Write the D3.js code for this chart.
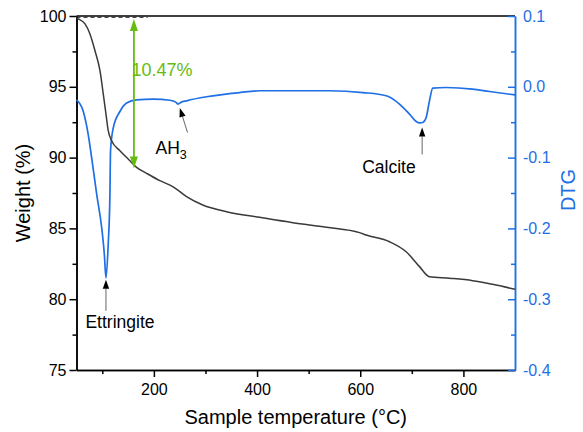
<!DOCTYPE html>
<html><head><meta charset="utf-8">
<script src="https://cdn.jsdelivr.net/npm/d3@7"></script>
<style>
html,body{margin:0;padding:0;background:#fff;}
svg{display:block;font-family:"Liberation Sans",Arial,sans-serif;}
</style></head>
<body>
<svg id="chart" width="583" height="432"></svg>
<script>
// ---- data ----
const weightT = [50, 53.5, 66.5, 76.1, 85.8, 95.5, 101.9, 107.1, 111.5, 118.1, 134.2, 153.5, 166.5, 185.9, 211.6, 237.4, 263.3, 294.8, 340.7, 405.2, 469.6, 534.3, 598.7, 611.7, 656.8, 689.1, 714.9, 734.2, 772.9, 818.0, 856.7, 900];
const weightV = [99.85, 99.79, 99.44, 98.73, 97.55, 96.14, 94.49, 93.08, 91.90, 91.19, 90.49, 89.78, 89.31, 88.89, 88.37, 87.94, 87.24, 86.65, 86.18, 85.78, 85.40, 85.08, 84.70, 84.53, 84.06, 83.35, 82.30, 81.59, 81.48, 81.31, 81.05, 80.70];
const dtgT = [50, 63.2, 72.8, 79.4, 89.1, 98.8, 104.0, 107.1, 111.5, 114.8, 116.0, 121.2, 134.2, 147.2, 166.5, 198.6, 231, 243, 247, 252, 263.3, 302, 366.5, 405.2, 540.6, 605.1, 650.4, 676.1, 695.5, 708.5, 715, 721.2, 727.8, 734.2, 740.6, 766.5, 817.4, 850.3, 900];
const dtgV = [-0.0184, -0.0349, -0.0678, -0.1003, -0.1516, -0.1987, -0.237, -0.2700, -0.2218, -0.1516, -0.090, -0.0583, -0.0349, -0.0230, -0.0184, -0.0174, -0.0190, -0.0220, -0.0244, -0.0220, -0.0198, -0.0141, -0.0081, -0.0056, -0.0056, -0.0081, -0.0127, -0.0244, -0.0386, -0.0490, -0.0510, -0.0504, -0.0434, -0.0198, -0.0018, -0.0010, -0.0032, -0.0066, -0.0115];
const xMajor = [200, 400, 600, 800];
const xMinor = [100, 300, 500, 700];
const wMajor = [75, 80, 85, 90, 95, 100];
const wMinor = [77.5, 82.5, 87.5, 92.5, 97.5];
const dMajor = [-0.4, -0.3, -0.2, -0.1, 0.0, 0.1];
const dMinor = [-0.35, -0.25, -0.15, -0.05, 0.05];
const massLoss = {label: "10.47%", T: 161.3, top: 99.85, bottom: 89.3, dashEnd: 188};
const peaks = [
  {label: "Ettringite", T: 107.1, v: -0.2726},
  {label: "AH", sub: "3", T: 250.3, v: -0.030},
  {label: "Calcite", T: 720, v: -0.0575}
];

// ---- layout ----
const blue = "#1f6fe5", green = "#66bb11", ink = "#000";
const L = 76.5, R = 515, T0 = 16, B = 370;
const x = d3.scaleLinear().domain([50, 900]).range([L, R]);
const yW = d3.scaleLinear().domain([75, 100]).range([B, T0]);
const yD = d3.scaleLinear().domain([-0.4, 0.1]).range([B, T0]);
const svg = d3.select("#chart");

// frame top
svg.append("line").attr("x1", L).attr("x2", R).attr("y1", T0).attr("y2", T0)
  .attr("stroke", ink).attr("stroke-width", 1.5);

// axes
function styleAxis(g, color) {
  g.select(".domain").attr("stroke", color).attr("stroke-width", 1.5);
  g.selectAll(".tick line").attr("stroke", color).attr("stroke-width", 1.5);
  g.selectAll(".tick text").attr("fill", color).attr("font-size", 16)
    .attr("font-family", '"Liberation Sans",Arial,sans-serif');
}
const gx = svg.append("g").attr("transform", `translate(0,${B})`)
  .call(d3.axisBottom(x).tickValues(xMajor).tickSize(7).tickPadding(7).tickSizeOuter(0));
styleAxis(gx, ink);
const gx2 = svg.append("g").attr("transform", `translate(0,${B})`)
  .call(d3.axisBottom(x).tickValues(xMinor).tickSize(4).tickFormat("").tickSizeOuter(0));
styleAxis(gx2, ink);

const gl = svg.append("g").attr("transform", `translate(${L},0)`)
  .call(d3.axisLeft(yW).tickValues(wMajor).tickSize(7).tickPadding(3).tickSizeOuter(0));
styleAxis(gl, ink);
const gl2 = svg.append("g").attr("transform", `translate(${L},0)`)
  .call(d3.axisLeft(yW).tickValues(wMinor).tickSize(4).tickFormat("").tickSizeOuter(0));
styleAxis(gl2, ink);

const gr = svg.append("g").attr("transform", `translate(${R},0)`)
  .call(d3.axisRight(yD).tickValues(dMajor).tickSize(-7).tickPadding(8).tickSizeOuter(0)
    .tickFormat(d => (Math.abs(d) < 1e-9 ? 0 : d).toFixed(1)));
styleAxis(gr, blue);
const gr2 = svg.append("g").attr("transform", `translate(${R},0)`)
  .call(d3.axisRight(yD).tickValues(dMinor).tickSize(-4).tickFormat("").tickSizeOuter(0));
styleAxis(gr2, blue);

// axis titles
svg.append("text").attr("transform", `translate(29.5,${(T0 + B) / 2}) rotate(-90)`)
  .attr("text-anchor", "middle").attr("font-size", 20).attr("fill", ink).text("Weight (%)");
svg.append("text").attr("transform", `translate(575,190) rotate(-90)`)
  .attr("text-anchor", "middle").attr("font-size", 20).attr("fill", blue).text("DTG");
svg.append("text").attr("x", (L + R) / 2).attr("y", 424)
  .attr("text-anchor", "middle").attr("font-size", 20).attr("fill", ink).text("Sample temperature (°C)");

// curves
const wData = weightT.map((t, i) => [t, weightV[i]]);
const dData = dtgT.map((t, i) => [t, dtgV[i]]);
svg.append("path").datum(dData).attr("fill", "none").attr("stroke", blue).attr("stroke-width", 1.7)
  .attr("d", d3.line().x(d => x(d[0])).y(d => yD(d[1])).curve(d3.curveMonotoneX));
svg.append("path").datum(wData).attr("fill", "none").attr("stroke", "#3a3a3a").attr("stroke-width", 1.5)
  .attr("d", d3.line().x(d => x(d[0])).y(d => yW(d[1])).curve(d3.curveMonotoneX));

// mass loss annotation
svg.append("line").attr("x1", L).attr("x2", x(massLoss.dashEnd))
  .attr("y1", yW(massLoss.top) - 0.8).attr("y2", yW(massLoss.top) - 0.8)
  .attr("stroke", "#222").attr("stroke-width", 1).attr("stroke-dasharray", "4,3");
const gxm = x(massLoss.T), gyt = yW(massLoss.top) + 1, gyb = yW(massLoss.bottom) + 1;
svg.append("line").attr("x1", gxm).attr("x2", gxm).attr("y1", gyt + 8).attr("y2", gyb - 8)
  .attr("stroke", green).attr("stroke-width", 1.8);
svg.append("path").attr("fill", green)
  .attr("d", `M${gxm},${gyt} L${gxm - 4},${gyt + 12} L${gxm + 4},${gyt + 12} Z`);
svg.append("path").attr("fill", green)
  .attr("d", `M${gxm},${gyb} L${gxm - 4},${gyb - 12} L${gxm + 4},${gyb - 12} Z`);
svg.append("text").attr("x", gxm - 2.5).attr("y", 75.5).attr("font-size", 18).attr("fill", green)
  .text(massLoss.label);

// peak annotations
function arrow(x1, y1, x2, y2) {
  // from tail (x1,y1) to tip (x2,y2)
  const a = Math.atan2(y2 - y1, x2 - x1), len = 9, w = 3.2;
  const bx = x2 - len * Math.cos(a), by = y2 - len * Math.sin(a);
  svg.append("line").attr("x1", x1).attr("y1", y1).attr("x2", bx).attr("y2", by)
    .attr("stroke", "#666").attr("stroke-width", 1);
  svg.append("path").attr("fill", "#000")
    .attr("d", `M${x2},${y2} L${bx - w * Math.sin(a)},${by + w * Math.cos(a)} L${bx + w * Math.sin(a)},${by - w * Math.cos(a)} Z`);
}
// Ettringite
{
  const p = peaks[0], tx = x(p.T), ty = yD(p.v);
  arrow(tx, ty + 31, tx, ty);
  svg.append("text").attr("x", tx + 14).attr("y", ty + 48).attr("text-anchor", "middle")
    .attr("font-size", 17.5).attr("fill", ink).text(p.label);
}
// AH3
{
  const p = peaks[1], tx = x(p.T), ty = yD(p.v);
  arrow(tx + 7.7, ty + 24.5, tx, ty);
  const t = svg.append("text").attr("x", tx - 24.3).attr("y", ty + 46).attr("font-size", 17.5).attr("fill", ink);
  t.append("tspan").text(p.label);
  t.append("tspan").attr("font-size", 12.5).attr("dy", 4.5).text(p.sub);
}
// Calcite
{
  const p = peaks[2], tx = x(p.T), ty = yD(p.v);
  arrow(tx, ty + 27, tx, ty);
  svg.append("text").attr("x", tx - 6.5).attr("y", ty + 45).attr("text-anchor", "end")
    .attr("font-size", 17.5).attr("fill", ink).text(p.label);
}
</script>
</body></html>
